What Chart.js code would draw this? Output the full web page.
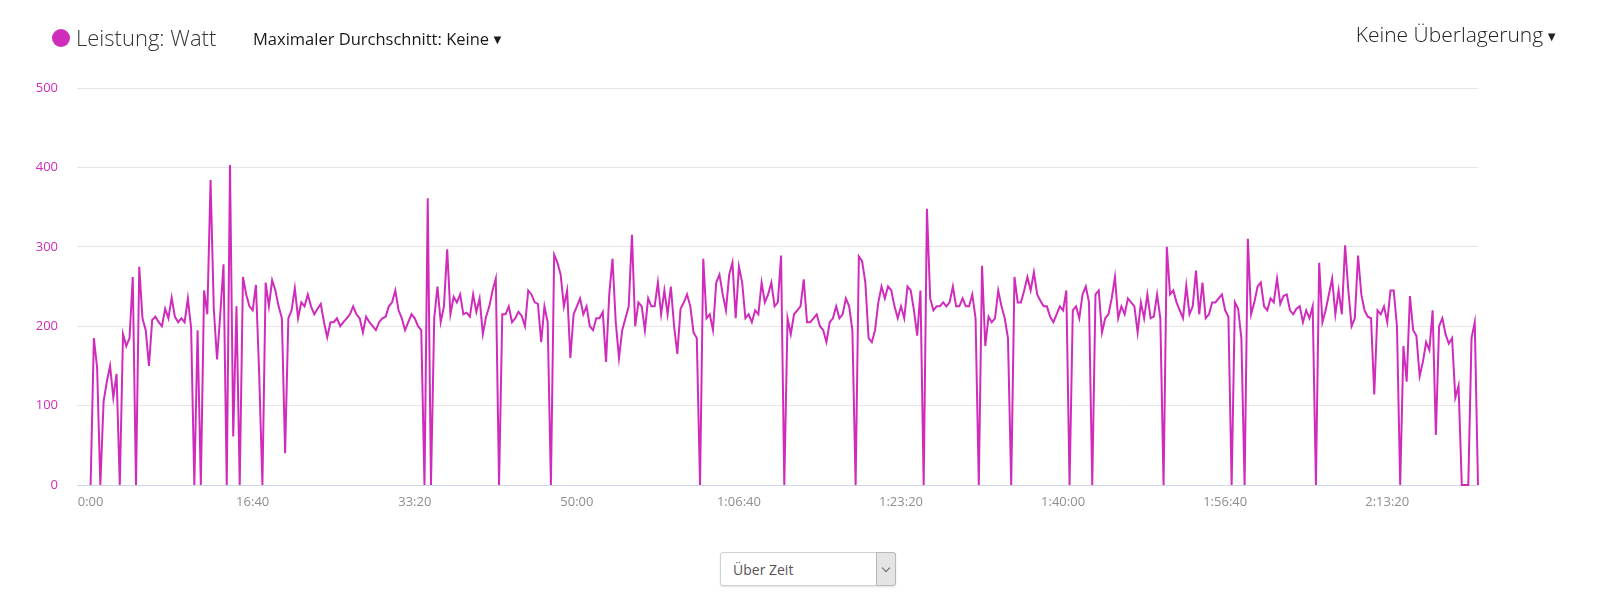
<!DOCTYPE html>
<html>
<head>
<meta charset="utf-8">
<script src="https://cdn.jsdelivr.net/npm/chart.js@4/dist/chart.umd.min.js"></script>
<style>
  html, body { margin: 0; padding: 0; background: #fff; }
  body { width: 1600px; height: 614px; position: relative; overflow: hidden; font-family: "Open Sans", sans-serif; }
  #wrap { position: absolute; left: 0; top: 0; width: 1600px; height: 530px; }
  .dot { position: absolute; left: 52px; top: 29px; width: 18px; height: 18px; border-radius: 50%; background: #d02cbc; }
  .leg { position: absolute; left: 76px; top: 22px; font-size: 22px; font-weight: 300; color: #333; white-space: nowrap; }
  .avg { position: absolute; left: 253px; top: 27px; font-size: 16.5px; color: #1a1a1a; white-space: nowrap; }
  .ovl { position: absolute; right: 42px; top: 20px; font-size: 21px; font-weight: 300; color: #222; white-space: nowrap; }
  .tri { font-size: 13px; vertical-align: 1px; margin-left: 2px; }
  .sel { position: absolute; left: 720px; top: 552px; width: 176px; height: 34px; box-sizing: border-box; border: 1px solid #d0d0d0; border-radius: 3px; background: #fff; box-shadow: 0 1px 2px rgba(0,0,0,0.12); }
  .sel span { position: absolute; left: 12px; top: 7px; font-size: 14px; color: #555; }
  .sel .btn { position: absolute; right: -1px; top: -1px; width: 20px; height: 34px; box-sizing: border-box; background: #e4e4e4; border: 1px solid #b8b8b8; border-radius: 0 3px 3px 0; }
  .sel .btn::after { content: ""; position: absolute; left: 6px; top: 12px; width: 5px; height: 5px; border-right: 1px solid #666; border-bottom: 1px solid #666; transform: rotate(45deg); }
</style>
</head>
<body>
<div id="wrap"><canvas id="c"></canvas></div>
<div class="dot"></div>
<div class="leg">Leistung: Watt</div>
<div class="avg">Maximaler Durchschnitt: Keine<span class="tri">▼</span></div>
<div class="ovl">Keine Überlagerung<span class="tri">▼</span></div>
<div class="sel"><span>Über Zeit</span><div class="btn"></div></div>
<script>
// Sampling step of the recording (seconds between samples)
const sampleStep = 20;

// Power in watts, one value per sample
const watts = [
  0,185,148,0,105,130,150,110,140,0,
  190,175,185,262,0,275,210,195,150,208,
  212,205,200,222,210,236,212,205,210,205,
  235,198,0,195,0,245,215,384,222,158,
  215,278,0,403,61,225,0,262,240,225,
  220,252,140,0,255,225,258,245,225,210,
  40,210,220,248,210,230,225,240,225,215,
  222,228,205,186,205,205,210,200,205,210,
  215,225,215,210,192,212,205,200,195,205,
  210,212,225,230,245,220,210,195,205,215,
  210,200,195,0,361,0,210,250,205,225,
  297,215,237,230,240,215,217,212,240,218,
  235,190,212,225,245,260,0,215,215,225,
  205,210,218,213,200,245,240,230,228,180,
  225,205,0,290,280,265,225,245,160,215,
  225,235,215,225,200,195,210,210,218,155,
  240,285,205,160,195,210,225,315,200,230,
  225,195,235,225,225,255,215,245,215,250,
  200,165,222,230,240,225,192,185,0,285,
  210,215,195,255,265,240,220,265,280,210,
  275,255,210,215,205,220,215,255,230,240,
  255,225,230,289,0,210,190,215,220,225,
  259,205,205,210,215,200,195,180,205,210,
  225,210,215,235,225,195,0,288,282,255,
  185,180,195,230,250,235,250,245,225,210,
  225,210,250,245,220,188,245,0,348,235,
  220,225,225,230,225,230,250,225,225,235,
  225,225,240,210,0,276,175,212,205,210,
  245,225,210,185,0,262,230,230,245,262,
  245,268,240,232,225,225,212,205,215,225,
  220,245,0,220,225,210,240,250,230,0,
  240,245,192,210,215,235,262,210,225,215,
  235,230,225,192,230,210,240,210,212,240,
  210,0,300,240,245,230,220,210,251,215,
  225,270,215,255,210,215,230,230,235,240,
  220,212,0,230,222,185,0,310,215,230,
  250,255,225,220,235,230,260,228,238,240,
  220,215,222,225,205,220,210,225,0,280,
  205,220,240,260,215,245,215,302,245,200,
  210,289,240,220,212,210,114,220,215,225,
  205,245,245,200,0,175,130,238,195,188,
  137,155,180,170,220,63,200,210,190,178,
  185,110,125,0,0,0,185,205,0
];

// Axis ticks
const yTicks = [0, 100, 200, 300, 400, 500];
const xTickValues = [0, 1000, 2000, 3000, 4000, 5000, 6000, 7000, 8000];
const xTickLabels = ['0:00', '16:40', '33:20', '50:00', '1:06:40', '1:23:20', '1:40:00', '1:56:40', '2:13:20'];

const points = watts.map((v, i) => ({ x: i * sampleStep, y: v }));
const lineColor = '#d02cbc';

new Chart(document.getElementById('c'), {
  type: 'line',
  data: {
    datasets: [{
      label: 'Leistung: Watt',
      data: points,
      borderColor: lineColor,
      backgroundColor: lineColor,
      borderWidth: 2,
      pointRadius: 0,
      tension: 0,
      fill: false,
      clip: 4
    }]
  },
  options: {
    responsive: true,
    maintainAspectRatio: false,
    animation: false,
    layout: { padding: { top: 88, left: 0, right: 122, bottom: 0 } },
    plugins: { legend: { display: false }, tooltip: { enabled: false } },
    scales: {
      x: {
        type: 'linear',
        min: -84,
        max: (watts.length - 1) * sampleStep,
        afterBuildTicks: (s) => { s.ticks = xTickValues.map(v => ({ value: v })); },
        afterFit: (s) => { s.height = 45; },
        grid: { display: false, drawTicks: false },
        border: { display: true, color: '#ccd6eb', width: 1 },
        ticks: {
          padding: 9,
          maxRotation: 0,
          autoSkip: false,
          color: '#8e8e8e',
          font: { family: 'Open Sans', size: 13 },
          callback: (v) => { const i = xTickValues.indexOf(v); return i >= 0 ? xTickLabels[i] : ''; }
        }
      },
      y: {
        min: 0,
        max: 500,
        afterBuildTicks: (s) => { s.ticks = yTicks.map(v => ({ value: v })); },
        afterFit: (s) => { s.width = 77; },
        grid: {
          drawTicks: false,
          color: (ctx) => ctx.tick && ctx.tick.value === 0 ? '#ccd6eb' : '#e6e6e6',
          lineWidth: 1
        },
        border: { display: false },
        ticks: {
          padding: 19,
          color: '#d02cbc',
          font: { family: 'Open Sans', size: 13 }
        }
      }
    }
  }
});
</script>
</body>
</html>
